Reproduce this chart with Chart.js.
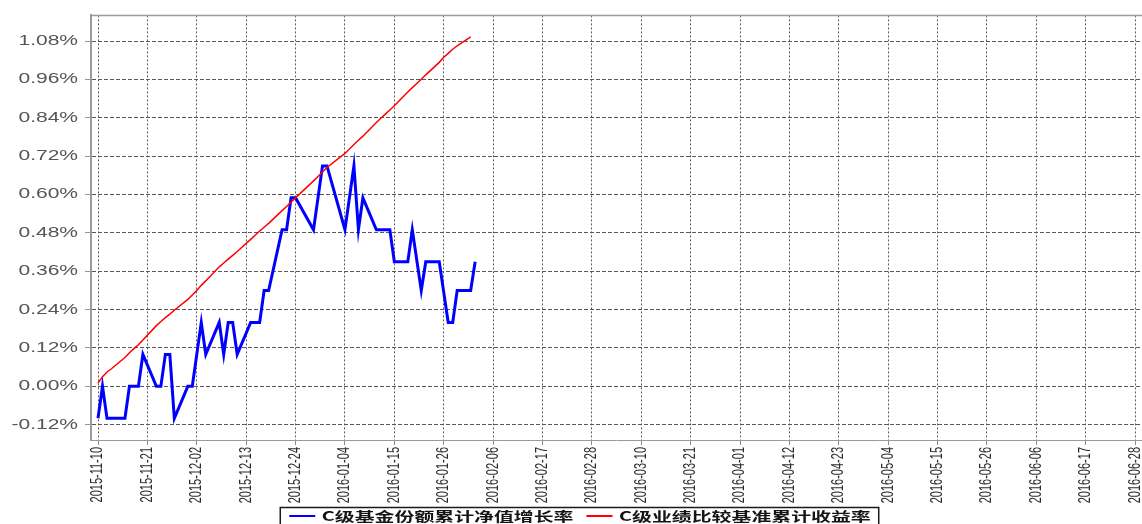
<!DOCTYPE html>
<html>
<head>
<meta charset="utf-8">
<script src="https://cdn.jsdelivr.net/npm/chart.js@4.4.1/dist/chart.umd.min.js"></script>
<style>
  html, body { margin: 0; padding: 0; background: #ffffff; }
  #c { display: block; }
</style>
</head>
<body>
<canvas id="c" width="1142" height="524"></canvas>
<script>
// ---------------- data ----------------
const seriesNames = ['C级基金份额累计净值增长率', 'C级业绩比较基准累计收益率'];

const xTickLabels = ['2015-11-10','2015-11-21','2015-12-02','2015-12-13','2015-12-24','2016-01-04',
  '2016-01-15','2016-01-26','2016-02-06','2016-02-17','2016-02-28','2016-03-10','2016-03-21',
  '2016-04-01','2016-04-12','2016-04-23','2016-05-04','2016-05-15','2016-05-26','2016-06-06',
  '2016-06-17','2016-06-28'];

const yTickValues = [-0.12, 0.00, 0.12, 0.24, 0.36, 0.48, 0.60, 0.72, 0.84, 0.96, 1.08];

// C级基金份额累计净值增长率 (%), turning points
const navDates = ['2015-11-10','2015-11-11','2015-11-12','2015-11-16','2015-11-17','2015-11-19',
  '2015-11-20','2015-11-23','2015-11-24','2015-11-25','2015-11-26','2015-11-27','2015-11-30',
  '2015-12-01','2015-12-02','2015-12-03','2015-12-04','2015-12-07','2015-12-08','2015-12-09',
  '2015-12-10','2015-12-11','2015-12-14','2015-12-16','2015-12-17','2015-12-18','2015-12-21',
  '2015-12-22','2015-12-23','2015-12-24','2015-12-28','2015-12-30','2015-12-31','2016-01-04',
  '2016-01-06','2016-01-07','2016-01-08','2016-01-11','2016-01-14','2016-01-15','2016-01-18',
  '2016-01-19','2016-01-21','2016-01-22','2016-01-25','2016-01-27','2016-01-28','2016-01-29',
  '2016-02-01','2016-02-02'];
const navValues = [-0.10, 0.00, -0.10, -0.10, 0.00, 0.00,
  0.10, 0.00, 0.00, 0.10, 0.10, -0.10, 0.00,
  0.00, 0.10, 0.20, 0.10, 0.20, 0.10, 0.20,
  0.20, 0.10, 0.20, 0.20, 0.30, 0.30, 0.49,
  0.49, 0.59, 0.59, 0.49, 0.69, 0.69, 0.49,
  0.69, 0.49, 0.59, 0.49, 0.49, 0.39, 0.39,
  0.49, 0.30, 0.39, 0.39, 0.20, 0.20, 0.30,
  0.30, 0.39];

// C级业绩比较基准累计收益率 (%), trading days
const benchDates = ['2015-11-10','2015-11-11','2015-11-12','2015-11-13','2015-11-16','2015-11-17',
  '2015-11-18','2015-11-19','2015-11-20','2015-11-23','2015-11-24','2015-11-25','2015-11-26',
  '2015-11-27','2015-11-30','2015-12-01','2015-12-02','2015-12-03','2015-12-04','2015-12-07',
  '2015-12-08','2015-12-09','2015-12-10','2015-12-11','2015-12-14','2015-12-15','2015-12-16',
  '2015-12-17','2015-12-18','2015-12-21','2015-12-22','2015-12-23','2015-12-24','2015-12-25',
  '2015-12-28','2015-12-29','2015-12-30','2015-12-31','2016-01-04','2016-01-05','2016-01-06',
  '2016-01-07','2016-01-08','2016-01-11','2016-01-12','2016-01-13','2016-01-14','2016-01-15',
  '2016-01-18','2016-01-19','2016-01-20','2016-01-21','2016-01-22','2016-01-25','2016-01-26',
  '2016-01-27','2016-01-28','2016-01-29','2016-02-01'];
const benchValues = [0.010, 0.030, 0.045, 0.055, 0.090, 0.105,
  0.118, 0.130, 0.145, 0.190, 0.203, 0.215, 0.226,
  0.238, 0.272, 0.286, 0.300, 0.316, 0.330, 0.374,
  0.386, 0.398, 0.410, 0.422, 0.460, 0.473, 0.486,
  0.498, 0.510, 0.550, 0.563, 0.577, 0.590, 0.603,
  0.643, 0.657, 0.671, 0.685, 0.729, 0.743, 0.757,
  0.770, 0.783, 0.826, 0.839, 0.852, 0.865, 0.878,
  0.921, 0.935, 0.948, 0.961, 0.975, 1.014, 1.030,
  1.042, 1.055, 1.066, 1.094];

// ---------------- helpers ----------------
const DAY_MS = 86400000;
const T0 = Date.UTC(2015, 10, 10);
function dayOf(s) {
  const p = s.split('-').map(Number);
  return Math.round((Date.UTC(p[0], p[1] - 1, p[2]) - T0) / DAY_MS);
}
const xTickDays = xTickLabels.map(dayOf);
const labelByDay = {};
xTickLabels.forEach((l, i) => { labelByDay[xTickDays[i]] = l; });

const K_Y = 1.5, K_LEG = 1.53, K_X = 1.45, LEG_PAD = 13;

// draws text horizontally stretched on screen (sx, sy are local scale factors)
function stretched(ctx, sx, sy, fn) {
  const ft = CanvasRenderingContext2D.prototype.fillText;
  const mt = CanvasRenderingContext2D.prototype.measureText;
  ctx.fillText = function (t, x, y) {
    this.save(); this.translate(x, y); this.scale(sx, sy); ft.call(this, t, 0, 0); this.restore();
  };
  ctx.measureText = function (t) {
    const m = mt.call(this, t);
    return { width: m.width * sx, actualBoundingBoxAscent: m.actualBoundingBoxAscent,
      actualBoundingBoxDescent: m.actualBoundingBoxDescent };
  };
  try { return fn(); } finally { delete ctx.fillText; delete ctx.measureText; }
}

const customPlugin = {
  id: 'custom',
  beforeLayout(chart) {
    const lg = chart.legend;
    if (lg && !lg._stretchWrapped) {
      const f = lg.fit, d = lg.draw;
      lg.fit = function () { return stretched(this.ctx, K_LEG, 1, () => f.apply(this, arguments)); };
      lg.draw = function () { return stretched(this.ctx, K_LEG, 1, () => d.apply(this, arguments)); };
      lg._stretchWrapped = true;
    }
  },
  afterLayout(chart) {
    const lg = chart.legend;
    if (!lg) return;
    const dx = 9.5;
    lg.left += dx; lg.right += dx;
    lg.top = 516 - LEG_PAD - 6.5;
    lg.bottom = 530;
    lg.height = lg.bottom - lg.top;
  },
  beforeDraw(chart) {
    const y = chart.scales.y;
    if (y && !y._stretchWrapped) {
      const dl = y.drawLabels;
      y.drawLabels = function () { return stretched(this.ctx, K_Y, 1, () => dl.apply(this, arguments)); };
      y._stretchWrapped = true;
    }
    const x = chart.scales.x;
    if (x && !x._stretchWrapped) {
      const dl = x.drawLabels;
      // labels are rotated -90deg: local y maps to screen x
      x.drawLabels = function () { return stretched(this.ctx, 1, K_X, () => dl.apply(this, arguments)); };
      x._stretchWrapped = true;
    }
  },
  beforeDatasetsDraw(chart) {
    const { ctx, chartArea: a } = chart;
    ctx.save();
    ctx.strokeStyle = '#9a9a9a';
    ctx.lineWidth = 1.5;
    ctx.beginPath();
    ctx.moveTo(a.left - 1, a.top);
    ctx.lineTo(chart.width, a.top);
    ctx.stroke();
    ctx.restore();
  },
  afterDraw(chart) {
    const lg = chart.legend;
    if (!lg || !lg.legendHitBoxes || !lg.legendHitBoxes.length) return;
    const hb = lg.legendHitBoxes;
    const first = hb[0], last = hb[hb.length - 1];
    const ctx = chart.ctx;
    ctx.save();
    ctx.strokeStyle = '#1a1a1a';
    ctx.lineWidth = 1.5;
    ctx.beginPath();
    const l = first.left - 9, r = last.left + last.width + 8, t = 507.5;
    ctx.moveTo(l, 530); ctx.lineTo(l, t); ctx.lineTo(r, t); ctx.lineTo(r, 530);
    ctx.stroke();
    ctx.restore();
  }
};

const chart = new Chart(document.getElementById('c').getContext('2d'), {
  type: 'line',
  data: {
    datasets: [
      {
        label: seriesNames[0],
        data: navDates.map((d, i) => ({ x: dayOf(d), y: navValues[i] })),
        borderColor: '#0000ff', backgroundColor: '#0000ff',
        borderWidth: 3, pointRadius: 0, tension: 0, fill: false, order: 1,
        borderJoinStyle: 'miter'
      },
      {
        label: seriesNames[1],
        data: benchDates.map((d, i) => ({ x: dayOf(d), y: benchValues[i] })),
        borderColor: '#ff0000', backgroundColor: '#ff0000',
        borderWidth: 1.5, pointRadius: 0, tension: 0, fill: false, order: 0
      }
    ]
  },
  options: {
    responsive: false,
    animation: false,
    devicePixelRatio: 1,
    layout: { padding: { left: 0, right: 1, top: 13, bottom: 0 } },
    plugins: {
      tooltip: { enabled: false },
      legend: {
        position: 'bottom',
        maxHeight: 17,
        labels: {
          usePointStyle: true,
          pointStyleWidth: 26,
          padding: LEG_PAD,
          color: '#151515',
          font: { family: "'Noto Sans CJK SC', sans-serif", size: 13, weight: 'bold' },
          generateLabels: (ch) => ch.data.datasets.map((ds, i) => ({
            text: ds.label,
            strokeStyle: ds.borderColor,
            fillStyle: ds.borderColor,
            lineWidth: 2,
            pointStyle: 'line',
            hidden: false,
            datasetIndex: i,
            fontColor: '#151515'
          }))
        }
      }
    },
    scales: {
      x: {
        type: 'linear',
        min: -1.56,
        max: 232.3,
        afterBuildTicks: (s) => { s.ticks = xTickDays.map(v => ({ value: v })); },
        afterFit: (s) => { s.height = 67; s.paddingLeft = 0; s.paddingRight = 0; },
        ticks: {
          autoSkip: false, minRotation: 90, maxRotation: 90, padding: 2,
          color: '#2a2a2a',
          font: { family: "'Liberation Sans', Arial, sans-serif", size: 11 },
          callback: (v) => labelByDay[v] || ''
        },
        grid: { color: '#5a5a5a', lineWidth: 1, tickLength: 5, tickColor: '#8a8a8a' },
        border: { color: '#9a9a9a', width: 1, dash: [2, 2] }
      },
      y: {
        min: -0.168,
        max: 1.161,
        afterBuildTicks: (s) => { s.ticks = yTickValues.map(v => ({ value: v })); },
        afterFit: (s) => { s.width = 91; },
        ticks: {
          padding: 7,
          color: '#555555',
          font: { family: "'Liberation Sans', Arial, sans-serif", size: 14 },
          callback: (v) => Number(v).toFixed(2) + '%'
        },
        grid: { color: '#5a5a5a', lineWidth: 1, tickLength: 6, tickColor: '#9a9a9a' },
        border: { color: '#9a9a9a', width: 2, dash: [4, 2] }
      }
    }
  },
  plugins: [customPlugin]
});
</script>
</body>
</html>
